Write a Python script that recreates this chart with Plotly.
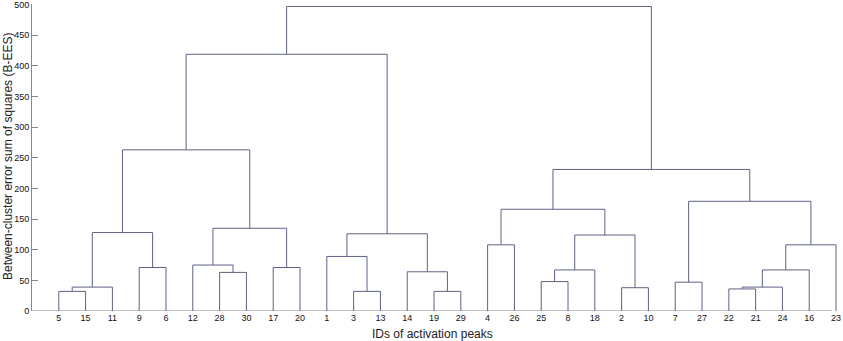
import plotly.graph_objects as go

# Leaf labels in display order (left to right)
leaf_labels = ["5", "15", "11", "9", "6", "12", "28", "30", "17", "20",
               "1", "3", "13", "14", "19", "29", "4", "26", "25", "8",
               "18", "2", "10", "7", "27", "22", "21", "24", "16", "23"]

# Linkage: child indices (0..29 leaves, 30+ = earlier merges) and merge heights
merge_left = [0, 30, 3, 31, 6, 5, 8, 35, 33, 11, 10, 14, 13, 40, 38,
              16, 18, 46, 21, 47, 45, 23, 25, 52, 53, 54, 51, 50, 44]
merge_right = [1, 2, 4, 32, 7, 34, 9, 36, 37, 12, 39, 15, 41, 42, 43,
               17, 19, 20, 22, 48, 49, 24, 26, 27, 28, 29, 55, 56, 57]
merge_height = [32, 39, 71, 128, 63, 75, 71, 135, 263, 32, 89, 32, 64, 126, 419,
                108, 48, 67, 38, 124, 166, 47, 36, 39, 67, 108, 179, 231, 497]

y_ticks = [0, 50, 100, 150, 200, 250, 300, 350, 400, 450, 500]

n = len(leaf_labels)
pos = [i + 1 for i in range(n)]
hgt = [0] * n
xs, ys = [], []
for a, b, h in zip(merge_left, merge_right, merge_height):
    xa, xb = pos[a], pos[b]
    xs += [xa, xa, xb, xb, None]
    ys += [hgt[a], h, h, hgt[b], None]
    pos.append((xa + xb) / 2)
    hgt.append(h)

fig = go.Figure()
fig.add_trace(go.Scatter(x=xs, y=ys, mode="lines",
                         line=dict(color="#5d6285", width=1),
                         hoverinfo="skip", showlegend=False))

fig.update_layout(
    width=843, height=341,
    margin=dict(l=32, r=0, t=4, b=30),
    plot_bgcolor="white", paper_bgcolor="white",
    font=dict(family="Arial", size=9, color="#111"),
    xaxis=dict(range=[0, 30.26], showgrid=False, zeroline=False,
               showline=False,
               tickmode="array", tickvals=list(range(1, n + 1)),
               ticktext=leaf_labels, ticks="",
               tickfont=dict(size=9, color="#111")),
    yaxis=dict(range=[0, 501], showgrid=False, zeroline=False,
               showline=True, linecolor="#888", linewidth=1,
               tickmode="array", tickvals=y_ticks,
               ticks="inside", ticklen=6, tickcolor="#888",
               ticklabeloverflow="allow",
               tickfont=dict(size=9, color="#111")),
    shapes=[dict(type="line", xref="x", yref="y", x0=0, x1=29.85, y0=0, y1=0,
                 line=dict(color="#888", width=1), layer="below")],
    annotations=[
        dict(text="IDs of activation peaks", xref="paper", yref="paper",
             x=0.494, y=-0.075, xanchor="center", yanchor="middle",
             showarrow=False, font=dict(size=12, color="#222")),
        dict(text="Between-cluster error sum of squares (B-EES)",
             xref="paper", yref="paper", x=-0.0296, y=0.505,
             xanchor="center", yanchor="middle", textangle=-90,
             showarrow=False, font=dict(size=12, color="#222")),
    ],
)

fig.write_html("out.html",
               config={"displayModeBar": False},
               post_script="document.body.style.margin='0';"
                           "document.body.style.overflow='hidden';")
